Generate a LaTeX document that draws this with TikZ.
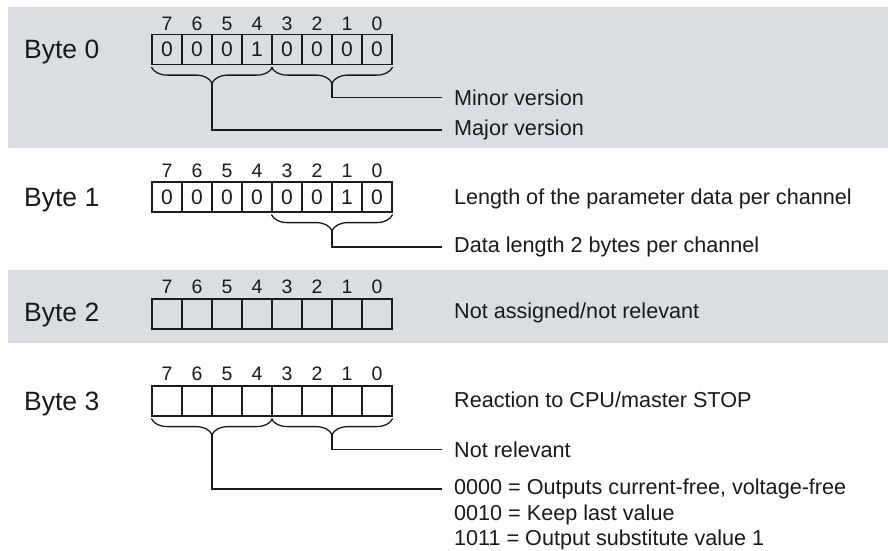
\documentclass[tikz,border=0pt]{standalone}
\usepackage{fontspec}
\setmainfont{Liberation Sans}
\usepackage{xcolor}
\usepackage{tikz}
\usetikzlibrary{decorations.pathreplacing}

\definecolor{bandgray}{RGB}{218,222,226}
\definecolor{ink}{RGB}{26,26,26}

\begin{document}
\begin{tikzpicture}[x=1pt,y=-1pt,color=ink,
    cell/.style={draw,line width=1.2pt,minimum width=30pt,minimum height=30pt,inner sep=0pt,font=\fontsize{21}{24}\selectfont},
    bitnum/.style={inner sep=0pt,font=\fontsize{19.5}{22}\selectfont},
    bytelbl/.style={anchor=base west,inner sep=0pt,font=\fontsize{26.5}{30}\selectfont},
    desc/.style={anchor=base west,inner xsep=12pt,inner ysep=0pt,font=\fontsize{21.6}{25}\selectfont},
    bracket/.style={decorate,decoration={brace,mirror,amplitude=16pt,raise=2pt},line width=1.3pt},
    wire/.style={line width=1.3pt}]
    \useasboundingbox (0,0) rectangle (888,550);
    \fill[white] (0,0) rectangle (888,550);
    \fill[bandgray] (8,7) rectangle (888,148);
    \fill[bandgray] (8,270) rectangle (888,343);

    % byte names
    \node[bytelbl] (byte0) at (24,58.5) {Byte 0};
    \node[bytelbl] (byte1) at (24,206.5) {Byte 1};
    \node[bytelbl] (byte2) at (24,321.5) {Byte 2};
    \node[bytelbl] (byte3) at (24,410.5) {Byte 3};

    % bit numbers
    \foreach \yy/\r in {24/0,171/1,287/2,374/3}
        \foreach \n in {7,...,0}
            \node[bitnum] (n\r-\n) at ({167+30*(7-\n)},\yy) {\n};

    % bit cells
    \foreach \n/\v in {7/0,6/0,5/0,4/1,3/0,2/0,1/0,0/0}
        \node[cell] (b0-\n) at ({167+30*(7-\n)},49.5) {\v};
    \foreach \n/\v in {7/0,6/0,5/0,4/0,3/0,2/0,1/1,0/0}
        \node[cell] (b1-\n) at ({167+30*(7-\n)},197) {\v};
    \foreach \n in {7,...,0}
        \node[cell] (b2-\n) at ({167+30*(7-\n)},314) {};
    \foreach \n in {7,...,0}
        \node[cell] (b3-\n) at ({167+30*(7-\n)},401) {};

    % texts
    \node[desc] (minor) at (442,105.5) {Minor version};
    \node[desc] (major) at (442,135.5) {Major version};
    \node[desc] (plen) at (442,204.5) {Length of the parameter data per channel};
    \node[desc] (dlen) at (442,252.5) {Data length 2 bytes per channel};
    \node[desc] (unused) at (442,318.5) {Not assigned/not relevant};
    \node[desc] (react) at (442,407.5) {Reaction to CPU/master STOP};
    \node[desc] (notrel) at (442,457.5) {Not relevant};
    \node[desc] (val0) at (442,494.5) {0000 = Outputs current-free, voltage-free};
    \node[desc] (val1) at (442,520.5) {0010 = Keep last value};
    \node[desc] (val2) at (442,545.5) {1011 = Output substitute value 1};

    % braces
    \draw[bracket] (b0-7.south west) -- (b0-4.south east);
    \draw[bracket] (b0-3.south west) -- (b0-0.south east);
    \draw[bracket] (b1-3.south west) -- (b1-0.south east);
    \draw[bracket] (b3-7.south west) -- (b3-4.south east);
    \draw[bracket] (b3-3.south west) -- (b3-0.south east);
    \coordinate (t0a) at (212,82.5);
    \coordinate (t0b) at (332,82.5);
    \coordinate (t1b) at (332,230);
    \coordinate (t3a) at (212,434);
    \coordinate (t3b) at (332,434);

    % connectors
    \draw[wire] (t0b) |- (minor.west);
    \draw[wire] (t0a) |- (major.west);
    \draw[wire] (t1b) |- (dlen.west);
    \draw[wire] (t3b) |- (notrel.west);
    \draw[wire] (t3a) |- (val0.west);
\end{tikzpicture}
\end{document}
